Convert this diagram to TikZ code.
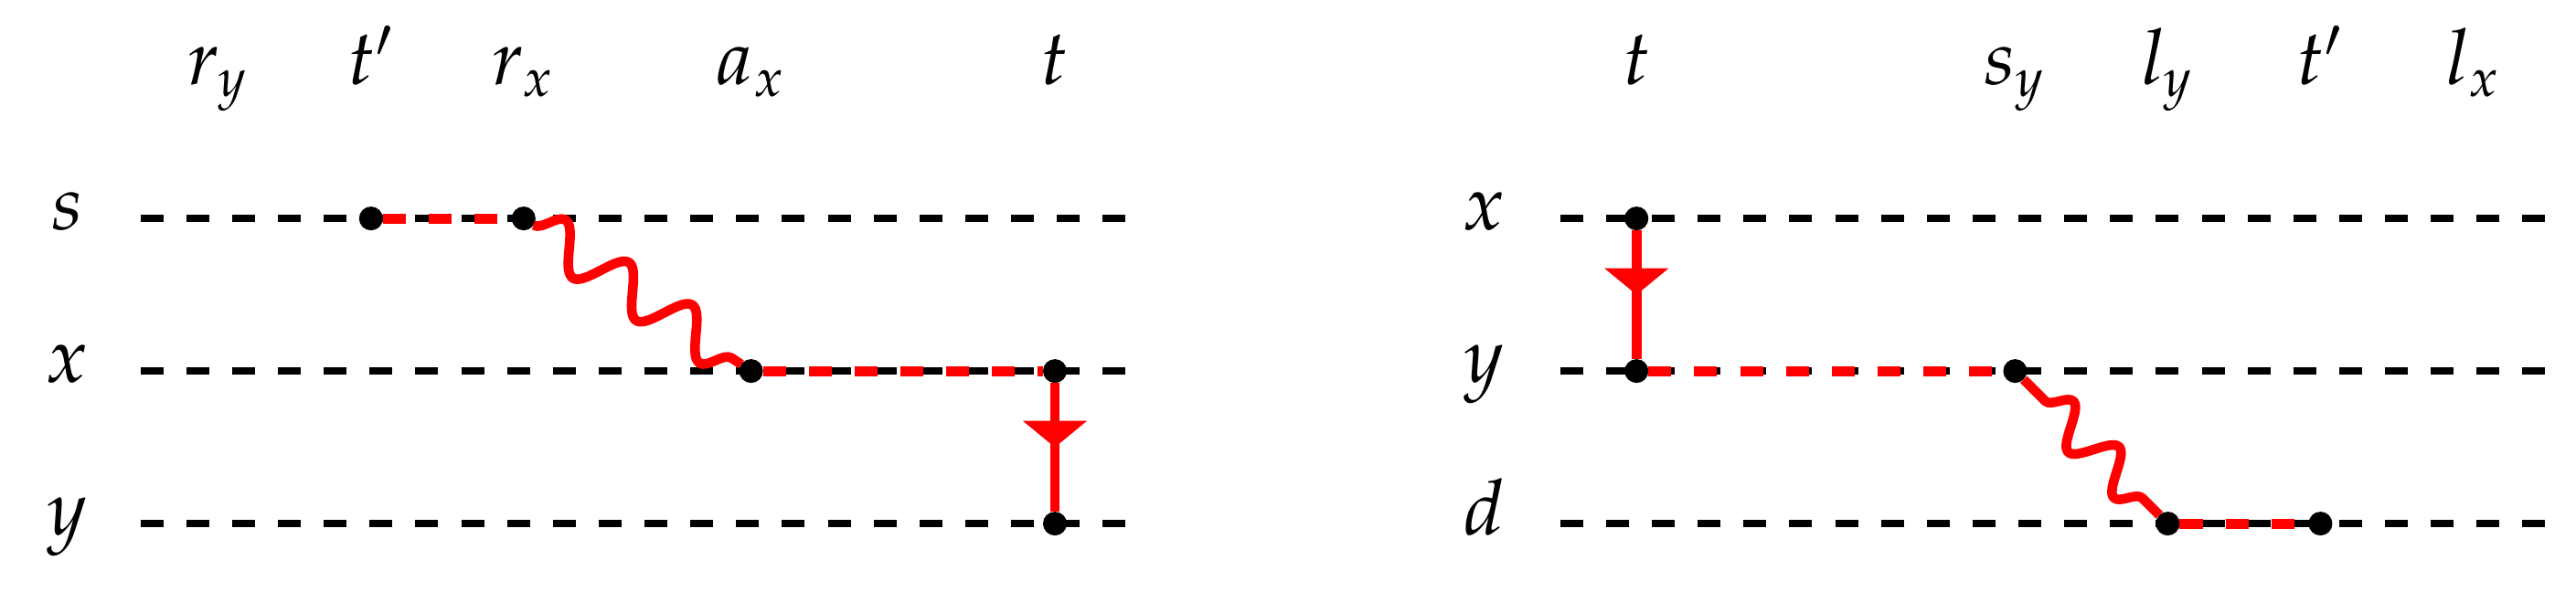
\documentclass[tikz,border=0pt]{standalone}
\usepackage{mathpazo}
\usetikzlibrary{decorations.pathmorphing,decorations.markings,arrows.meta}
\tikzset{
  rowline/.style={black, line width=1.25pt, dash pattern=on 4.27pt off 4.27pt},
  reddash/.style={red, line width=1.87pt, dash pattern=on 4.27pt off 4.27pt},
  wave/.style={red, line width=1.8pt, line join=round, decorate,
    decoration={snake, amplitude=0.145cm, segment length=0.5cm}},
  wavepre/.style={wave, decoration={amplitude=0.13cm, segment length=0.423cm, pre length=0.2cm}},
  drop/.style={red, line width=1.85pt, postaction={decorate},
    decoration={markings, mark=at position 0.5 with {\arrow{Triangle[width=4.13mm,length=1.74mm]}}}},
  dot/.style={circle, fill=black, inner sep=0pt, outer sep=0pt, minimum size=1.56mm},
  collabel/.style={anchor=base, inner sep=0pt, font=\fontsize{14.4}{17}\selectfont},
  rowlabel/.style={anchor=mid, inner sep=0pt, font=\fontsize{14.4}{17}\selectfont},
}
\begin{document}
\begin{tikzpicture}
\useasboundingbox (0,0) rectangle (16.874,-3.880);
% ---------- left panel ----------
\node[collabel] (Lry) at (1.43,-0.557) {$r_y$};
\node[collabel] (Ltp) at (2.43,-0.557) {$t'$};
\node[collabel] (Lrx) at (3.43,-0.557) {$r_x$};
\node[collabel] (Lax) at (4.92,-0.557) {$a_x$};
\node[collabel] (Lt)  at (6.91,-0.557) {$t$};
\node[rowlabel] (Lls) at (0.44,-1.432) {$s$};
\node[rowlabel] (Llx) at (0.44,-2.432) {$x$};
\node[rowlabel] (Lly) at (0.44,-3.432) {$y$};
\coordinate (Ls0) at (0.92,-1.432); \coordinate (Ls1) at (7.42,-1.432);
\coordinate (Lx0) at (0.92,-2.432); \coordinate (Lx1) at (7.42,-2.432);
\coordinate (Ly0) at (0.92,-3.432); \coordinate (Ly1) at (7.42,-3.432);
\draw[rowline] (Ls0) -- (Ls1);
\draw[rowline] (Lx0) -- (Lx1);
\draw[rowline] (Ly0) -- (Ly1);
\node[dot] (L1) at (2.43,-1.432) {};
\node[dot] (L2) at (3.43,-1.432) {};
\node[dot] (L3) at (4.92,-2.432) {};
\node[dot] (L4) at (6.91,-2.432) {};
\node[dot] (L5) at (6.91,-3.432) {};
\draw[reddash] (L1) -- (L2);
\draw[wave] (L2) -- (L3);
\draw[reddash] (L3) -- (L4);
\draw[drop] (L4) -- (L5);
% ---------- right panel ----------
\node[collabel] (Rt)  at (10.72,-0.557) {$t$};
\node[collabel] (Rsy) at (13.20,-0.557) {$s_y$};
\node[collabel] (Rly) at (14.20,-0.557) {$l_y$};
\node[collabel] (Rtp) at (15.20,-0.557) {$t'$};
\node[collabel] (Rlx) at (16.20,-0.557) {$l_x$};
\node[rowlabel] (Rlx2) at (9.72,-1.432) {$x$};
\node[rowlabel] (Rly2) at (9.72,-2.432) {$y$};
\node[rowlabel] (Rld)  at (9.72,-3.432) {$d$};
\coordinate (Rx0) at (10.22,-1.432); \coordinate (Rx1) at (16.70,-1.432);
\coordinate (Ry0) at (10.22,-2.432); \coordinate (Ry1) at (16.70,-2.432);
\coordinate (Rd0) at (10.22,-3.432); \coordinate (Rd1) at (16.70,-3.432);
\draw[rowline] (Rx0) -- (Rx1);
\draw[rowline] (Ry0) -- (Ry1);
\draw[rowline] (Rd0) -- (Rd1);
\node[dot] (R1) at (10.72,-1.432) {};
\node[dot] (R2) at (10.72,-2.432) {};
\node[dot] (R3) at (13.20,-2.432) {};
\node[dot] (R4) at (14.20,-3.432) {};
\node[dot] (R5) at (15.20,-3.432) {};
\draw[drop] (R1) -- (R2);
\draw[reddash] (R2) -- (R3);
\draw[wavepre] (R3) -- (R4);
\draw[reddash] (R4) -- (R5);
\end{tikzpicture}
\end{document}
